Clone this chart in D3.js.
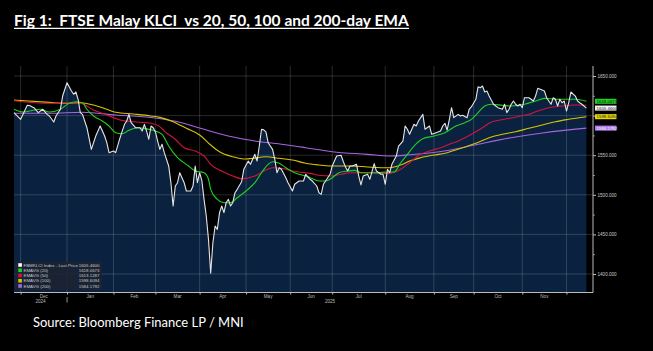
<!DOCTYPE html>
<html>
<head>
<meta charset="utf-8">
<script src="https://cdn.jsdelivr.net/npm/d3@7"></script>
<style>
    body { margin: 0; background: #000; }
    svg { display: block; }
</style>
</head>
<body>
<div id="chart"></div>
<script>
(function () {
    "use strict";

    // values, [trading day, level]
    var klci = [[0,1603.7],[3,1595.3],[6,1613.0],[7,1612.7],[9,1610.0],[11,1603.7],[13,1608.0],[15,1601.6],[16,1599.5],[18,1591.9],[19,1599.5],[21,1608.0],[22,1624.7],[24,1641.5],[26,1631.1],[27,1626.9],[28,1629.8],[29,1620.6],[30,1603.7],[31,1601.6],[33,1584.7],[35,1557.4],[37,1574.2],[39,1586.9],[41,1574.2],[42,1565.8],[43,1553.2],[45,1555.3],[46,1553.2],[48,1572.1],[50,1589.0],[51,1593.2],[52,1601.6],[53,1591.0],[55,1584.7],[57,1584.7],[58,1580.5],[59,1589.0],[60,1580.5],[61,1570.1],[62,1586.9],[63,1584.7],[64,1579.3],[65,1567.9],[66,1557.4],[67,1563.8],[68,1553.2],[70,1536.4],[71,1515.3],[72,1485.9],[73,1511.1],[74,1515.3],[75,1527.9],[77,1515.3],[78,1504.8],[80,1504.8],[81,1511.0],[82,1536.4],[83,1515.3],[84,1527.9],[85,1518.0],[86,1494.3],[87,1473.2],[88,1443.8],[89,1401.0],[90,1439.5],[91,1460.6],[92,1456.4],[93,1477.4],[94,1485.9],[95,1477.4],[96,1490.0],[97,1494.3],[98,1485.9],[99,1490.0],[100,1502.6],[101,1506.9],[103,1516.5],[104,1532.2],[106,1542.7],[107,1538.5],[108,1544.8],[109,1551.1],[110,1542.7],[111,1561.6],[112,1582.7],[113,1582.0],[114,1579.5],[115,1565.8],[117,1557.4],[118,1544.8],[119,1527.9],[120,1534.2],[121,1532.2],[123,1521.6],[124,1515.3],[126,1504.8],[127,1513.3],[129,1517.4],[131,1517.4],[132,1525.9],[134,1519.6],[135,1517.4],[137,1511.1],[138,1502.6],[139,1500.6],[140,1513.3],[141,1517.4],[143,1525.9],[144,1536.4],[146,1549.0],[148,1549.9],[149,1542.0],[150,1535.0],[151,1530.0],[152,1536.4],[153,1536.4],[155,1538.5],[156,1523.7],[157,1512.4],[158,1523.7],[160,1525.9],[161,1519.6],[163,1539.3],[164,1530.0],[166,1525.9],[167,1525.9],[168,1513.3],[169,1532.2],[170,1527.9],[171,1538.5],[173,1549.0],[174,1561.6],[176,1567.9],[177,1586.9],[178,1582.7],[179,1576.4],[181,1589.0],[182,1586.9],[183,1593.2],[185,1601.6],[186,1582.7],[188,1586.9],[189,1576.4],[191,1578.4],[193,1580.5],[194,1586.9],[195,1590.3],[196,1581.7],[197,1595.3],[198,1610.0],[199,1597.4],[201,1601.6],[202,1599.5],[203,1600.4],[205,1597.4],[206,1608.0],[207,1611.2],[209,1620.6],[210,1636.5],[211,1635.2],[212,1637.4],[213,1629.8],[214,1631.1],[215,1624.7],[217,1614.3],[218,1612.1],[219,1610.0],[221,1608.0],[222,1614.3],[223,1603.7],[224,1608.0],[225,1614.3],[226,1618.4],[227,1614.3],[228,1612.1],[229,1614.3],[230,1610.0],[231,1622.6],[233,1622.6],[234,1620.6],[235,1618.4],[236,1624.7],[237,1634.5],[239,1632.3],[240,1631.1],[241,1622.6],[242,1618.4],[243,1614.3],[244,1622.6],[245,1620.6],[246,1612.1],[247,1620.6],[248,1616.3],[249,1618.4],[250,1605.8],[251,1616.3],[252,1629.8],[254,1624.7],[255,1618.4],[256,1616.3],[257,1614.3],[259,1609.5]];

    var ema20 = [[0,1608.0],[4,1604.5],[7,1605.8],[12,1608.0],[16,1604.5],[21,1608.0],[25,1615.5],[28,1617.5],[31,1616.3],[33,1608.0],[36,1599.5],[40,1593.2],[43,1586.9],[46,1578.4],[49,1577.1],[52,1581.4],[56,1584.7],[59,1583.9],[63,1581.4],[67,1576.4],[70,1561.6],[74,1546.8],[79,1536.4],[82,1530.0],[86,1527.9],[88,1519.6],[89,1506.9],[92,1494.3],[95,1490.0],[98,1490.0],[101,1496.3],[105,1504.8],[109,1515.3],[112,1527.9],[115,1538.5],[117,1541.8],[120,1539.8],[123,1534.2],[127,1527.9],[132,1523.7],[134,1521.6],[138,1517.4],[141,1517.4],[144,1521.6],[147,1527.9],[151,1530.0],[154,1530.9],[157,1527.9],[164,1527.9],[169,1528.8],[172,1528.8],[175,1540.5],[178,1551.1],[181,1561.6],[185,1570.8],[190,1574.2],[195,1578.4],[200,1586.9],[204,1591.0],[207,1595.3],[210,1603.7],[213,1612.1],[216,1614.3],[221,1613.0],[225,1612.1],[231,1614.3],[236,1618.4],[240,1621.8],[245,1620.6],[249,1620.6],[254,1620.6],[259,1618.07]];

    var ema50 = [[0,1618.8],[16,1615.5],[24,1616.3],[30,1615.5],[36,1607.1],[42,1600.8],[48,1594.4],[54,1592.3],[62,1590.3],[66,1586.0],[68,1580.5],[73,1570.1],[77,1559.5],[82,1555.3],[86,1549.0],[89,1538.5],[94,1530.0],[99,1523.7],[103,1520.3],[109,1523.7],[114,1531.3],[117,1534.2],[121,1533.5],[126,1530.0],[129,1528.8],[134,1527.1],[138,1524.6],[143,1523.7],[148,1525.9],[152,1527.9],[157,1527.9],[166,1527.1],[170,1527.1],[175,1532.2],[179,1540.5],[184,1551.1],[188,1555.3],[193,1559.5],[197,1563.8],[201,1567.9],[207,1576.4],[212,1584.7],[216,1591.9],[222,1595.3],[228,1598.6],[233,1601.6],[237,1605.8],[242,1610.0],[248,1612.1],[254,1613.4],[259,1613.13]];

    var ema100 = [[0,1619.7],[16,1616.7],[24,1615.5],[30,1616.3],[36,1613.4],[42,1608.0],[46,1604.2],[54,1602.0],[62,1599.5],[66,1597.8],[72,1592.3],[78,1583.9],[84,1575.5],[89,1562.9],[93,1554.4],[99,1548.1],[105,1545.2],[114,1548.1],[120,1546.1],[126,1543.9],[132,1539.8],[138,1537.6],[143,1536.4],[153,1536.4],[160,1535.1],[166,1534.2],[170,1534.2],[175,1537.6],[179,1542.7],[184,1546.8],[190,1550.2],[195,1552.4],[203,1559.5],[209,1565.0],[215,1572.1],[221,1576.4],[227,1579.7],[233,1584.0],[239,1588.1],[245,1592.3],[251,1595.3],[259,1598.61]];

    var ema200 = [[0,1602.9],[16,1602.9],[31,1604.2],[46,1600.8],[63,1597.2],[75,1591.5],[86,1582.7],[98,1573.5],[109,1567.9],[122,1563.5],[132,1559.5],[144,1554.4],[160,1551.1],[170,1549.0],[179,1550.5],[197,1556.2],[210,1563.8],[225,1572.1],[240,1578.4],[259,1584.18]];

    // first trading day of each month on the axis
    var monthStarts = [3, 24, 45, 64, 84, 105, 125, 144, 168, 190, 208, 230, 250];
    var monthNames = ["Dec", "Jan", "Feb", "Mar", "Apr", "May", "Jun", "Jul", "Aug", "Sep", "Oct", "Nov"];
    var yearNames = ["2024", "2025"];
    var yTicks = [1400, 1450, 1500, 1550, 1600, 1650];
    var yMinor = [1425, 1475, 1525, 1575, 1625];

    var legendNames = ["FBMKLCI Index - Last Price", "EMAVG (20)", "EMAVG (50)", "EMAVG (100)", "EMAVG (200)"];
    var legendValues = ["1605.4600", "1618.0673", "1613.1287", "1598.6094", "1584.1792"];
    var colors = ["#e6e6e6", "#1ed21e", "#d2143c", "#d8c400", "#a566e0"];

    var vWidth = 653, vHeight = 351;
    var pLeft = 14, pRight = 593, pTop = 66, pBottom = 292;

    var svg = d3.select("#chart")
        .append("svg")
        .attr("width", vWidth)
        .attr("height", vHeight)
        .style("background", "#000");

    var x = d3.scaleLinear().domain([0, 262]).range([pLeft, pRight]);
    var y = d3.scaleLinear().domain([1400, 1650]).range([274, 76]);

    // title
    var title = svg.append("text")
        .attr("x", 14)
        .attr("y", 25.5)
        .attr("fill", "#fff")
        .style("font-family", "Lato, 'Open Sans', sans-serif")
        .style("font-weight", "bold")
        .style("font-size", "15.5px")
        .text("Fig 1:  FTSE Malay KLCI  vs 20, 50, 100 and 200-day EMA");
    title.attr("xml:space", "preserve").style("white-space", "pre");
    var tLen = title.node().getComputedTextLength();
    title.style("font-size", (15.5 * 395 / tLen) + "px");
    svg.append("line")
        .attr("x1", 14).attr("x2", 409)
        .attr("y1", 28.3).attr("y2", 28.3)
        .attr("stroke", "#fff").attr("stroke-width", 1.3);

    // area under the price
    svg.append("path")
        .datum(klci)
        .attr("fill", "#0a2240")
        .attr("d", d3.area()
            .x(function (d) { return x(d[0]); })
            .y0(pBottom)
            .y1(function (d) { return y(d[1]); }));

    // grid
    svg.append("g")
        .selectAll("line")
        .data(monthStarts)
        .enter()
        .append("line")
            .attr("x1", function (d) { return x(d); })
            .attr("x2", function (d) { return x(d); })
            .attr("y1", pTop).attr("y2", pBottom)
            .attr("stroke", "#fff").attr("stroke-opacity", 0.2).attr("stroke-width", 0.8);
    svg.append("g")
        .selectAll("line")
        .data(yTicks)
        .enter()
        .append("line")
            .attr("x1", pLeft).attr("x2", pRight)
            .attr("y1", function (d) { return y(d); })
            .attr("y2", function (d) { return y(d); })
            .attr("stroke", "#fff").attr("stroke-opacity", 0.2).attr("stroke-width", 0.8);

    // lines
    var smooth = d3.line()
        .x(function (d) { return x(d[0]); })
        .y(function (d) { return y(d[1]); })
        .curve(d3.curveMonotoneX);
    var series = [ema200, ema100, ema50, ema20];
    var seriesColors = [colors[4], colors[3], colors[2], colors[1]];
    series.forEach(function (s, i) {
        svg.append("path")
            .datum(s)
            .attr("fill", "none")
            .attr("stroke", seriesColors[i])
            .attr("stroke-width", 1.1)
            .attr("d", smooth);
    });
    svg.append("path")
        .datum(klci)
        .attr("fill", "none")
        .attr("stroke", colors[0])
        .attr("stroke-width", 1.1)
        .attr("stroke-linejoin", "round")
        .attr("d", d3.line()
            .x(function (d) { return x(d[0]); })
            .y(function (d) { return y(d[1]); }));

    // axes
    var yAxis = svg.append("g")
        .attr("transform", "translate(" + pRight + ",0)")
        .call(d3.axisRight(y).tickValues(yTicks).tickSize(3).tickPadding(1.5).tickFormat(d3.format(".3f")));
    yAxis.select(".domain").remove();
    yAxis.selectAll("line").attr("stroke", "#bbb");
    yAxis.selectAll("text")
        .attr("fill", "#ccc")
        .style("font-family", "'Liberation Sans', Arial, sans-serif")
        .style("font-size", "4.6px");
    var yMinorAxis = svg.append("g")
        .attr("transform", "translate(" + pRight + ",0)")
        .call(d3.axisRight(y).tickValues(yMinor).tickSize(1.8).tickFormat(""));
    yMinorAxis.select(".domain").remove();
    yMinorAxis.selectAll("line").attr("stroke", "#999");

    svg.append("line")
        .attr("x1", pRight).attr("x2", pRight)
        .attr("y1", pTop).attr("y2", pBottom + 0.5)
        .attr("stroke", "#bbb").attr("stroke-width", 1);

    var xAxis = svg.append("g")
        .attr("transform", "translate(0," + pBottom + ")")
        .call(d3.axisBottom(x).tickValues(monthStarts).tickSize(2.5).tickFormat(""));
    xAxis.select(".domain").attr("stroke", "#bbb").attr("stroke-width", 1)
        .attr("d", "M" + pLeft + ",0.5H" + pRight);
    xAxis.selectAll(".tick line").attr("stroke", "#bbb");

    var smallFont = "'Liberation Sans', Arial, sans-serif";
    svg.append("g")
        .selectAll("text")
        .data(monthNames)
        .enter()
        .append("text")
            .attr("x", function (d, i) { return x((monthStarts[i] + monthStarts[i + 1]) / 2); })
            .attr("y", 297.5)
            .attr("text-anchor", "middle")
            .attr("fill", "#bbb")
            .style("font-family", smallFont)
            .style("font-size", "4.6px")
            .text(function (d) { return d; });
    var yearSpans = [[0, monthStarts[1]], [monthStarts[1], 262]];
    svg.append("g")
        .selectAll("text")
        .data(yearNames)
        .enter()
        .append("text")
            .attr("x", function (d, i) { return (x(yearSpans[i][0]) + x(yearSpans[i][1])) / 2; })
            .attr("y", 302.5)
            .attr("text-anchor", "middle")
            .attr("fill", "#bbb")
            .style("font-family", smallFont)
            .style("font-size", "4.6px")
            .text(function (d) { return d; });
    svg.append("line")
        .attr("x1", x(monthStarts[1])).attr("x2", x(monthStarts[1]))
        .attr("y1", 297).attr("y2", 302.5)
        .attr("stroke", "#bbb").attr("stroke-width", 0.8);

    // last value tags on the right (EMA 50 tag is hidden in the original)
    var tags = [
        { v: ema20[ema20.length - 1][1], t: legendValues[1], bg: colors[1], fg: "#111" },
        { v: klci[klci.length - 1][1], t: legendValues[0], bg: "#f2f2f2", fg: "#222" },
        { v: ema100[ema100.length - 1][1], t: legendValues[3], bg: "#e8d800", fg: "#222" },
        { v: ema200[ema200.length - 1][1], t: legendValues[4], bg: "#b47ef0", fg: "#f4f4f4" }
    ];
    var tagG = svg.append("g")
        .selectAll("g")
        .data(tags)
        .enter()
        .append("g")
            .attr("transform", function (d) { return "translate(" + (pRight + 2) + "," + y(d.v) + ")"; });
    tagG.append("rect")
        .attr("x", 0).attr("y", -2.5)
        .attr("width", 21.5).attr("height", 5)
        .attr("fill", function (d) { return d.bg; });
    tagG.append("text")
        .attr("x", 1.5).attr("y", 1.6)
        .attr("fill", function (d) { return d.fg; })
        .style("font-family", smallFont)
        .style("font-size", "4.4px")
        .text(function (d) { return d.t; });

    // legend
    var legend = svg.append("g");
    legend.append("rect")
        .attr("x", 15).attr("y", 261.5)
        .attr("width", 87).attr("height", 28.5)
        .attr("fill", "#1b2433").attr("fill-opacity", 0.92);
    var rows = legend.selectAll("g")
        .data(legendNames)
        .enter()
        .append("g")
            .attr("transform", function (d, i) { return "translate(0," + (265 + i * 5.25) + ")"; });
    rows.append("rect")
        .attr("x", 18.3).attr("y", -1.8)
        .attr("width", 3.6).attr("height", 3.6)
        .attr("fill", function (d, i) { return i === 0 ? "#fff" : colors[i]; });
    rows.append("text")
        .attr("x", 23.5).attr("y", 1.6)
        .attr("fill", "#c8c8c8")
        .style("font-family", smallFont)
        .style("font-size", "4.4px")
        .text(function (d) { return d; });
    rows.append("text")
        .attr("x", 99.5).attr("y", 1.6)
        .attr("text-anchor", "end")
        .attr("fill", "#c8c8c8")
        .style("font-family", smallFont)
        .style("font-size", "4.4px")
        .text(function (d, i) { return legendValues[i]; });

    // source
    var src = svg.append("text")
        .attr("x", 33)
        .attr("y", 326.5)
        .attr("fill", "#fff")
        .style("font-family", "Lato, 'Open Sans', sans-serif")
        .style("font-size", "11px")
        .text("Source: Bloomberg Finance LP / MNI");
    var sLen = src.node().getComputedTextLength();
    src.style("font-size", (11 * 211 / sLen) + "px");
})();
</script>
</body>
</html>
